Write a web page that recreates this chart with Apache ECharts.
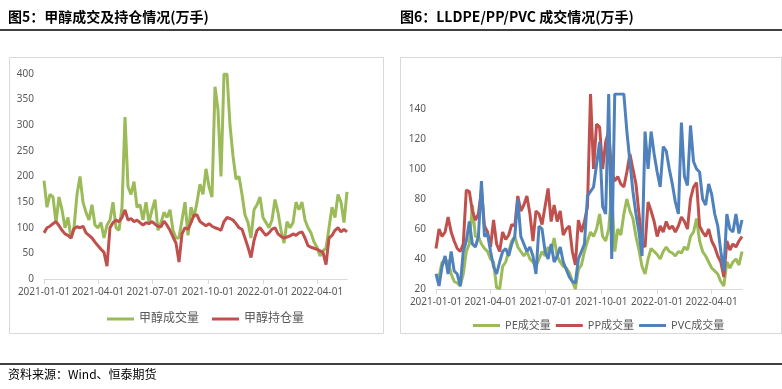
<!DOCTYPE html>
<html><head><meta charset="utf-8">
<script src="https://cdn.jsdelivr.net/npm/echarts@6/dist/echarts.min.js"></script>
<style>html,body{margin:0;padding:0;background:#fff}#c{width:782px;height:389px}</style>
</head><body><div id="c"></div>
<script>
// shared dates (5-day sampling)
const dates = ['2021-01-01','2021-01-06','2021-01-11','2021-01-16','2021-01-21','2021-01-26','2021-01-31','2021-02-05','2021-02-10','2021-02-15',
'2021-02-20','2021-02-25','2021-03-02','2021-03-07','2021-03-12','2021-03-17','2021-03-22','2021-03-27','2021-04-01','2021-04-06',
'2021-04-11','2021-04-16','2021-04-21','2021-04-26','2021-05-01','2021-05-06','2021-05-11','2021-05-16','2021-05-21','2021-05-26',
'2021-05-31','2021-06-05','2021-06-10','2021-06-15','2021-06-20','2021-06-25','2021-06-30','2021-07-05','2021-07-10','2021-07-15',
'2021-07-20','2021-07-25','2021-07-30','2021-08-04','2021-08-09','2021-08-14','2021-08-19','2021-08-24','2021-08-29','2021-09-03',
'2021-09-08','2021-09-13','2021-09-18','2021-09-23','2021-09-28','2021-10-03','2021-10-08','2021-10-13','2021-10-18','2021-10-23',
'2021-10-28','2021-11-02','2021-11-07','2021-11-12','2021-11-17','2021-11-22','2021-11-27','2021-12-02','2021-12-07','2021-12-12',
'2021-12-17','2021-12-22','2021-12-27','2022-01-01','2022-01-06','2022-01-11','2022-01-16','2022-01-21','2022-01-26','2022-01-31',
'2022-02-05','2022-02-10','2022-02-15','2022-02-20','2022-02-25','2022-03-02','2022-03-07','2022-03-12','2022-03-17','2022-03-22',
'2022-03-27','2022-04-01','2022-04-06','2022-04-11','2022-04-16','2022-04-21','2022-04-26','2022-05-01','2022-05-06','2022-05-11',
'2022-05-16','2022-05-21'];

// Chart 5: methanol volume / open interest (10k lots)
const methanolVolume = [192,140,165,160,110,160,135,100,120,80,
100,165,200,150,130,115,145,105,100,110,
80,105,115,150,100,95,140,316,180,165,
190,140,145,115,150,110,135,155,95,110,
130,120,135,95,80,80,115,150,85,140,
120,150,185,165,215,180,160,375,330,200,
400,400,300,240,195,200,165,125,110,80,
135,145,160,120,110,100,115,155,130,95,
70,112,100,110,150,135,150,115,100,90,
72,62,45,55,60,100,140,120,165,150,
110,170];
const methanolOI = [90,100,103,108,112,104,95,88,85,80,
98,102,100,103,90,85,80,72,65,58,
52,25,100,110,115,112,120,135,115,118,
112,115,110,105,110,108,112,107,103,102,
113,105,95,82,70,33,88,100,97,110,
125,125,112,108,104,108,103,100,98,95,
112,120,118,115,108,100,97,80,62,42,
75,95,100,92,85,90,97,100,88,83,
80,82,84,88,85,90,92,80,65,62,
60,58,55,52,28,80,85,95,100,92,
97,92];

// Chart 6: LLDPE / PP / PVC volume (10k lots)
const peVolume = [30,28,38,38,39,30,25,24,22,30,
45,50,76,55,55,50,47,45,40,38,
21,20,35,38,45,52,55,48,45,42,
45,40,38,35,40,45,42,48,45,54,
42,38,35,34,31,25,20,33,36,45,
52,58,55,60,70,55,52,60,85,45,
60,56,70,80,72,67,55,46,35,30,
40,47,45,43,40,45,48,45,44,42,
45,44,48,46,55,58,67,52,45,42,
38,34,32,30,25,22,38,34,38,40,
36,45];
const ppVolume = [47,60,55,58,68,58,52,47,45,50,
86,85,72,66,70,86,62,58,48,66,
50,45,58,53,56,63,62,82,72,76,
82,70,52,72,70,63,75,87,65,76,
65,72,56,60,62,45,36,66,58,65,
75,150,100,130,128,100,118,125,98,92,
95,90,88,98,110,100,90,70,50,48,
78,72,65,55,62,58,65,60,62,58,
62,68,65,60,80,88,91,62,58,55,
60,52,48,42,38,28,52,46,50,48,
52,55];
const pvcVolume = [30,22,35,42,30,45,32,30,22,45,
52,65,50,48,55,92,55,57,45,35,
30,38,45,47,42,50,55,80,55,50,
45,48,42,30,62,60,45,40,50,38,
42,48,38,33,28,25,24,40,45,50,
82,85,88,103,118,75,70,150,40,150,
150,150,150,125,105,85,70,58,42,125,
100,125,110,98,88,115,112,100,90,78,
70,131,95,89,129,105,100,98,80,76,
90,83,70,62,45,32,70,60,58,70,
57,66];

const tickDates = ['2021-01-01','2021-04-01','2021-07-01','2021-10-01','2022-01-01','2022-04-01'];
const tickLabels = ['2021-01-01','2021-04-01','2021-07-01','2021-10-01','2022-01-01','2022-04-01'];

function dayNum(s){const p=s.split('-').map(Number);return (Date.UTC(p[0],p[1]-1,p[2])-Date.UTC(2021,0,1))/86400000;}
const xDays = dates.map(dayNum);
const tickDays = tickDates.map(dayNum);
const pairs = arr => arr.map((v,i)=>[xDays[i],v]);

const font = '"Noto Sans", "Noto Sans CJK SC", sans-serif';
const axisLabelColor = '#595959';

function xAxis(gi){
  return {type:'value', gridIndex:gi, min:0, max:xDays[xDays.length-1],
    axisLine:{show:true, lineStyle:{color:'#d9d9d9', width:1}},
    axisTick:{show:true, customValues:tickDays, length:5, lineStyle:{color:'#d9d9d9'}},
    axisLabel:{customValues:tickDays, margin:8, fontSize:10, color:axisLabelColor, fontFamily:font,
      formatter:v=>{const i=tickDays.indexOf(v);return i>=0?tickLabels[i]:'';}},
    splitLine:{show:false}};
}

const chart = echarts.init(document.getElementById('c'));
chart.setOption({
  animation:false,
  backgroundColor:'#fff',
  grid:[
    {left:44, right:435, top:74, bottom:110},
    {left:436, right:40, top:94, bottom:100}
  ],
  xAxis:[xAxis(0), xAxis(1)],
  yAxis:[
    {type:'value', gridIndex:0, min:0, max:400, interval:50,
      axisLine:{show:false}, axisTick:{show:false}, splitLine:{show:false},
      axisLabel:{fontSize:10, color:axisLabelColor, margin:10, fontFamily:font}},
    {type:'value', gridIndex:1, min:20, max:150, interval:20,
      axisLine:{show:false}, axisTick:{show:false}, splitLine:{show:false},
      axisLabel:{fontSize:10, color:axisLabelColor, margin:10, fontFamily:font, showMaxLabel:false}}
  ],
  legend:[
    {data:['甲醇成交量','甲醇持仓量'], left:102, top:308, icon:'rect', itemWidth:27, itemHeight:3, itemGap:13,
      textStyle:{fontSize:12, color:axisLabelColor, fontFamily:font}},
    {data:['PE成交量','PP成交量','PVC成交量'], left:468, top:315, icon:'rect', itemWidth:27, itemHeight:3, itemGap:5,
      textStyle:{fontSize:11, color:axisLabelColor, fontFamily:font}}
  ],
  series:[
    {name:'甲醇成交量', type:'line', xAxisIndex:0, yAxisIndex:0, data:pairs(methanolVolume), symbol:'none',
      color:'#9BBB59', lineStyle:{width:3, color:'#9BBB59'}},
    {name:'甲醇持仓量', type:'line', xAxisIndex:0, yAxisIndex:0, data:pairs(methanolOI), symbol:'none',
      color:'#C0504D', lineStyle:{width:3, color:'#C0504D'}},
    {name:'PE成交量', type:'line', xAxisIndex:1, yAxisIndex:1, data:pairs(peVolume), symbol:'none',
      color:'#9BBB59', lineStyle:{width:3, color:'#9BBB59'}},
    {name:'PP成交量', type:'line', xAxisIndex:1, yAxisIndex:1, data:pairs(ppVolume), symbol:'none',
      color:'#C0504D', lineStyle:{width:3, color:'#C0504D'}},
    {name:'PVC成交量', type:'line', xAxisIndex:1, yAxisIndex:1, data:pairs(pvcVolume), symbol:'none',
      color:'#4F81BD', lineStyle:{width:3, color:'#4F81BD'}}
  ],
  graphic:[
    {type:'rect', shape:{x:9.5, y:57.5, width:374, height:276}, style:{fill:'none', stroke:'#d9d9d9', lineWidth:1}, z:-1},
    {type:'rect', shape:{x:400.5, y:57.5, width:381, height:276}, style:{fill:'none', stroke:'#d9d9d9', lineWidth:1}, z:-1},
    {type:'text', left:8, top:10, style:{text:'图5：甲醇成交及持仓情况(万手)', fontSize:14, fontWeight:'bold', fill:'#000', fontFamily:'"Noto Sans CJK SC", sans-serif'}},
    {type:'text', left:400, top:10, style:{text:'图6：LLDPE/PP/PVC 成交情况(万手)', fontSize:14, fontWeight:'bold', fill:'#000', fontFamily:'"Noto Sans CJK SC", sans-serif'}},
    {type:'line', shape:{x1:0, y1:30, x2:782, y2:30}, style:{stroke:'#000', lineWidth:1.5}},
    {type:'line', shape:{x1:0, y1:364, x2:782, y2:364}, style:{stroke:'#000', lineWidth:1.5}},
    {type:'text', left:8, top:368, style:{text:'资料来源：Wind、恒泰期货', fontSize:12, fill:'#000', fontFamily:'"Noto Sans CJK SC", sans-serif'}}
  ]
});
</script>
</body></html>
